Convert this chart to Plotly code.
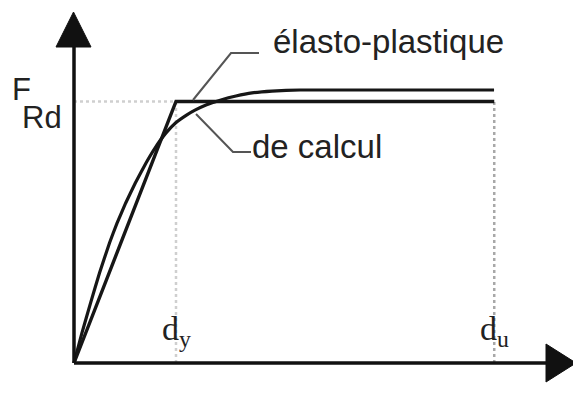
import plotly.graph_objects as go

# Force-displacement curves (displacement in units of d_y, force in units of F_Rd)
d_y = 1.0
d_u = 4.12
F_Rd = 1.0

# elastic-perfectly-plastic idealisation
x_elasto = [0.0, d_y, d_u]
f_elasto = [0.0, F_Rd, F_Rd]

# design curve
x_calc = [0.0, 0.078, 0.162, 0.250, 0.348, 0.422, 0.507, 0.601, 0.706, 0.794,
          0.902, 0.995, 1.103, 1.186, 1.294, 1.441, 1.588, 1.745, 1.941, 2.216, 4.118]
f_calc = [0.0, 0.115, 0.229, 0.344, 0.459, 0.535, 0.612, 0.688, 0.765, 0.822,
          0.880, 0.918, 0.948, 0.967, 0.987, 1.006, 1.021, 1.033, 1.040, 1.044, 1.044]

tick_labels = ["d<sub>y</sub>", "d<sub>u</sub>"]
curve_labels = ["élasto-plastique", "de calcul"]

# pixel scale of the axes (573 x 414 canvas, zero margins)
W, H = 573, 414
X0, Y0 = 74, 363          # origin in pixels
SX, SY = 102.0, 261.5     # pixels per unit

def px(x):
    return (x - X0) / SX

def py(y):
    return (Y0 - y) / SY

fig = go.Figure()

# guide lines to F_Rd, d_y and d_u
fig.add_trace(go.Scatter(x=[0, d_y], y=[F_Rd, F_Rd], mode="lines",
                         line=dict(color="#cfcfcf", width=2.5, dash="dot"),
                         hoverinfo="skip"))
fig.add_trace(go.Scatter(x=[d_y, d_y], y=[0, F_Rd], mode="lines",
                         line=dict(color="#cfcfcf", width=2.5, dash="dot"),
                         hoverinfo="skip"))
fig.add_trace(go.Scatter(x=[d_u, d_u], y=[0, F_Rd], mode="lines",
                         line=dict(color="#a8a8a8", width=2.5, dash="dot"),
                         hoverinfo="skip"))

# curves
fig.add_trace(go.Scatter(x=x_calc, y=f_calc, mode="lines",
                         line=dict(color="#161616", width=3.2, shape="spline", smoothing=0.3),
                         hoverinfo="skip"))
fig.add_trace(go.Scatter(x=x_elasto, y=f_elasto, mode="lines",
                         line=dict(color="#161616", width=3.4),
                         hoverinfo="skip"))

# leader lines for the curve labels
fig.add_trace(go.Scatter(x=[px(193), px(231), px(259)], y=[py(100), py(53), py(53)],
                         mode="lines", line=dict(color="#555555", width=2),
                         hoverinfo="skip"))
fig.add_trace(go.Scatter(x=[px(196), px(233), px(251)], y=[py(114), py(152), py(152)],
                         mode="lines", line=dict(color="#555555", width=2),
                         hoverinfo="skip"))

shapes = [
    # axes
    dict(type="line", x0=0, y0=0, x1=0, y1=py(40), line=dict(color="#111", width=3.5)),
    dict(type="line", x0=0, y0=0, x1=px(550), y1=0, line=dict(color="#111", width=3.5)),
    # arrow heads
    dict(type="path",
         path=f"M {px(73.5)},{py(12)} L {px(56)},{py(47)} L {px(91)},{py(47)} Z",
         fillcolor="#111", line=dict(color="#111", width=1)),
    dict(type="path",
         path=f"M {px(576)},{py(363)} L {px(546)},{py(344)} L {px(546)},{py(382)} Z",
         fillcolor="#111", line=dict(color="#111", width=1)),
]

sans = "Liberation Sans, Arial, sans-serif"
serif = "Liberation Serif, Times New Roman, serif"

annotations = [
    dict(x=px(271), y=py(41), text=curve_labels[0], showarrow=False,
         xanchor="left", yanchor="middle", font=dict(family=sans, size=33, color="#222")),
    dict(x=px(250), y=py(146), text=curve_labels[1], showarrow=False,
         xanchor="left", yanchor="middle", font=dict(family=sans, size=33, color="#222")),
    dict(x=px(10), y=py(89), text="F", showarrow=False, height=26,
         xanchor="left", yanchor="middle", font=dict(family=sans, size=31, color="#222")),
    dict(x=px(20), y=py(117), text="Rd", showarrow=False, height=26,
         xanchor="left", yanchor="middle", font=dict(family=sans, size=31, color="#222")),
    dict(x=d_y, y=py(331), text=tick_labels[0], showarrow=False,
         xanchor="center", yanchor="middle", font=dict(family=serif, size=34, color="#222")),
    dict(x=d_u, y=py(331), text=tick_labels[1], showarrow=False,
         xanchor="center", yanchor="middle", font=dict(family=serif, size=34, color="#222")),
]

fig.update_layout(
    width=W, height=H,
    margin=dict(l=0, r=0, t=0, b=0),
    paper_bgcolor="white", plot_bgcolor="white",
    showlegend=False,
    xaxis=dict(range=[px(0), px(W)], visible=False, fixedrange=True),
    yaxis=dict(range=[py(H), py(0)], visible=False, fixedrange=True),
    shapes=shapes,
    annotations=annotations,
)

fig.write_html("out.html")
